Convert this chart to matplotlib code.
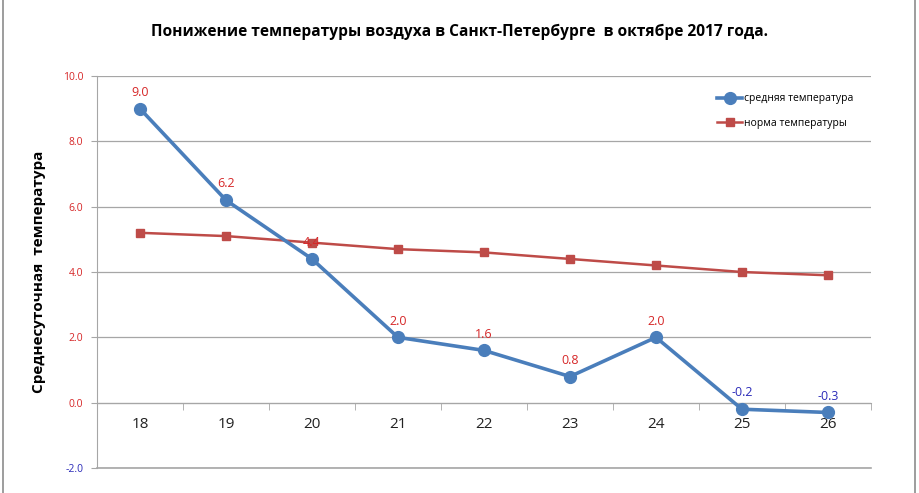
import matplotlib
matplotlib.use("Agg")
import matplotlib.pyplot as plt
from matplotlib.lines import Line2D

plt.rcParams['font.family'] = ['Open Sans', 'DejaVu Sans']

# data
days = ['18', '19', '20', '21', '22', '23', '24', '25', '26']
avg_temp = [9.0, 6.2, 4.4, 2.0, 1.6, 0.8, 2.0, -0.2, -0.3]
norm_temp = [5.2, 5.1, 4.9, 4.7, 4.6, 4.4, 4.2, 4.0, 3.9]
y_ticks = [-2.0, 0.0, 2.0, 4.0, 6.0, 8.0, 10.0]

title = 'Понижение температуры воздуха в Санкт-Петербурге  в октябре 2017 года.'
ylabel = 'Среднесуточная  температура'
avg_name = 'средняя температура'
norm_name = 'норма температуры'

blue = '#4a7ebb'
red = '#be4b48'
lbl_red = '#d62728'
lbl_blue = '#2a2ab8'
grid_c = '#a6a6a6'

fig = plt.figure(figsize=(9.2, 4.93), dpi=100)
ax = fig.add_axes([0.1054, 0.0507, 0.8413, 0.7951])

x = list(range(len(days)))
ax.plot(x, avg_temp, color=blue, lw=2.6, marker='o', ms=8.5, label=avg_name, zorder=4)
ax.plot(x, norm_temp, color=red, lw=1.8, marker='s', ms=6, label=norm_name, zorder=3)

for xi, v in zip(x, avg_temp):
    ax.annotate(f'{v:.1f}', (xi, v), xytext=(0, 7), textcoords='offset points',
                ha='center', va='bottom', fontsize=9,
                color=lbl_red if v >= 0 else lbl_blue, zorder=5)

ax.set_xlim(-0.5, len(days) - 0.5)
ax.set_ylim(-2, 10)
ax.set_yticks(y_ticks)
ax.set_yticklabels([f'{t:.1f}' for t in y_ticks], fontsize=7.5)
for t, lab in zip(y_ticks, ax.get_yticklabels()):
    lab.set_color(lbl_red if t >= 0 else lbl_blue)
ax.yaxis.grid(True, color=grid_c, lw=0.9)
ax.axhline(-2, color=grid_c, lw=1.2, clip_on=False, zorder=1)
ax.set_axisbelow(True)
ax.tick_params(axis='y', length=4, color=grid_c, pad=6)

# category axis sits on zero line, ticks between categories
ax.spines['bottom'].set_position(('data', 0))
ax.spines['bottom'].set_color(grid_c)
ax.set_xticks(x)
ax.set_xticklabels(days, fontsize=11, color='#222222')
ax.set_xticks([i - 0.5 for i in range(len(days) + 1)], minor=True)
ax.tick_params(axis='x', which='major', length=0, pad=10)
ax.tick_params(axis='x', which='minor', length=5, color=grid_c, direction='out')

ax.spines['left'].set_color(grid_c)
ax.spines['right'].set_visible(False)
ax.spines['top'].set_visible(False)

ax.set_ylabel(ylabel, fontsize=11, fontweight='bold', labelpad=12)

ax.legend(loc='upper right', bbox_to_anchor=(0.99, 0.98), frameon=False, fontsize=7.5,
          handlelength=2.4, labelspacing=1.3, handletextpad=0.2)

fig.text(0.5, 0.935, title, ha='center', va='center', fontsize=11.2, fontweight='bold')

# chart border
fig.add_artist(Line2D([0.003, 0.003], [0, 1], color='#8c8c8c', lw=1.2, transform=fig.transFigure))
fig.add_artist(Line2D([0.995, 0.995], [0, 1], color='#8c8c8c', lw=1.2, transform=fig.transFigure))

fig.savefig('out.png', dpi=100)
